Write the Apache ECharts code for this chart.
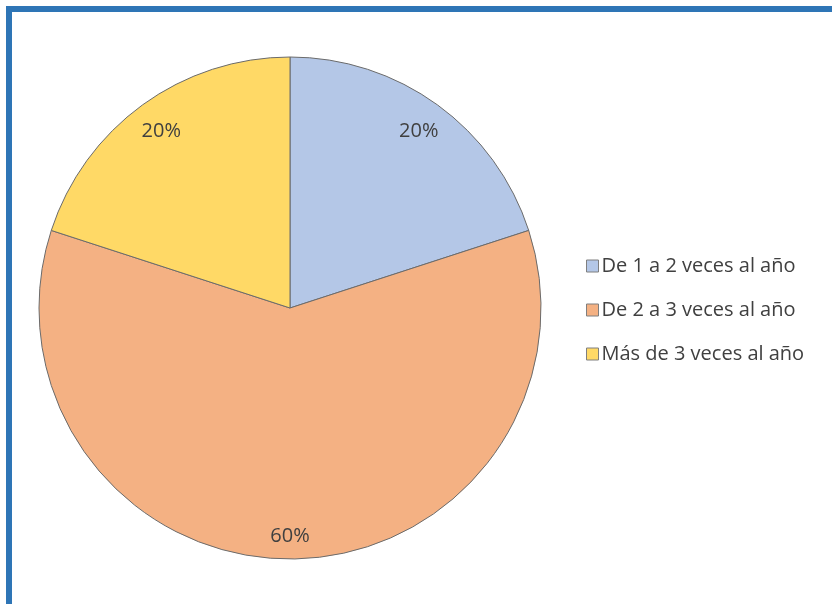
<!DOCTYPE html>
<html>
<head>
<meta charset="utf-8">
<script src="https://cdn.jsdelivr.net/npm/echarts@6/dist/echarts.min.js"></script>
<style>
  html, body { margin: 0; padding: 0; background: #fff; }
  #chart { width: 832px; height: 604px; }
</style>
</head>
<body>
<div id="chart"></div>
<script>
var categories = ['De 1 a 2 veces al año', 'De 2 a 3 veces al año', 'Más de 3 veces al año']
var shares = [20, 60, 20]
var colors = ['#B4C7E7', '#F4B183', '#FFD966']

var chart = echarts.init(document.getElementById('chart'))

var pieData = categories.map(function (name, i) {
  return { name: name, value: shares[i], itemStyle: { color: colors[i] } }
})

// labels sit near the rim; the big slice's label a little further out
var labelData = categories.map(function (name, i) {
  var item = { name: name, value: shares[i] }
  if (shares[i] > 50) item.label = { offset: [0, 9] }
  return item
})

var option = {
  backgroundColor: '#fff',
  animation: false,
  graphic: [
    { type: 'rect', shape: { x: 6, y: 6, width: 826, height: 6 }, style: { fill: '#2E75B6' } },
    { type: 'rect', shape: { x: 6, y: 6, width: 6, height: 598 }, style: { fill: '#2E75B6' } }
  ],
  legend: {
    orient: 'vertical',
    left: 581,
    top: 251,
    itemWidth: 12,
    itemHeight: 12,
    itemGap: 24,
    icon: 'rect',
    itemStyle: { borderColor: '#7f7f7f', borderWidth: 1 },
    textStyle: {
      fontFamily: 'Open Sans',
      fontSize: 20,
      lineHeight: 20,
      color: '#404040',
      padding: [0, 0, 0, -2]
    },
    data: categories
  },
  series: [
    {
      type: 'pie',
      center: [290, 308],
      radius: [0, 251],
      startAngle: 90,
      clockwise: true,
      label: { show: false },
      labelLine: { show: false },
      itemStyle: { borderColor: '#6b6b6b', borderWidth: 1 },
      emphasis: { disabled: true },
      data: pieData
    },
    {
      // label ring only
      type: 'pie',
      silent: true,
      center: [290, 308],
      radius: [181, 251],
      startAngle: 90,
      clockwise: true,
      itemStyle: { color: 'transparent', borderWidth: 0 },
      label: {
        show: true,
        position: 'inside',
        formatter: '{c}%',
        fontFamily: 'Open Sans',
        fontSize: 20,
        color: '#404040'
      },
      labelLine: { show: false },
      emphasis: { disabled: true },
      data: labelData
    }
  ]
}

chart.setOption(option)
</script>
</body>
</html>
